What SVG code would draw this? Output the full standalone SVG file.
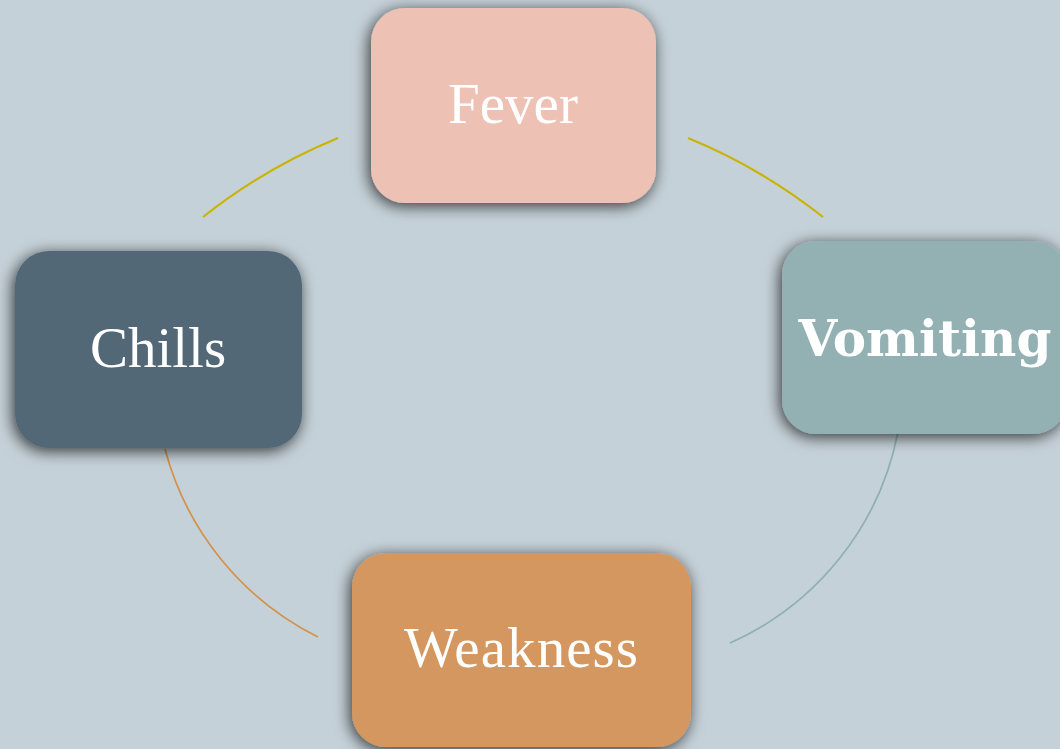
<svg xmlns="http://www.w3.org/2000/svg" width="1060" height="749" viewBox="0 0 1060 749">
<defs>
<filter id="sh" x="-25%" y="-25%" width="150%" height="150%">
<feDropShadow dx="-2" dy="3" stdDeviation="8" flood-color="#000" flood-opacity="0.75"/>
</filter>
<style>
.node{filter:url(#sh)}
.lbl{font-family:"Liberation Serif","Times New Roman",serif;font-size:57px;fill:#ffffff;text-anchor:middle}
.bold{font-family:"DejaVu Serif",serif;font-size:50px;font-weight:bold}
.arc{fill:none}
</style>
</defs>
<rect width="1060" height="749" fill="#c5d1d8"/>
<g id="connectors">
<path class="arc" d="M203,217 A560,560 0 0 1 338,138" stroke="#c9b304" stroke-width="2.2"/>
<path class="arc" d="M688,138 A560,560 0 0 1 823,217" stroke="#c9b304" stroke-width="2.2"/>
<path class="arc" d="M898,432 A292,292 0 0 1 730,643" stroke="#8eb0b3" stroke-width="1.7"/>
<path class="arc" d="M318,637 A294,294 0 0 1 165,449" stroke="#d4914a" stroke-width="1.7"/>
</g>
<g id="node-fever">
<rect class="node" x="371" y="8" width="285" height="195" rx="34" fill="#eec1b5"/>
<text class="lbl" x="513" y="123">Fever</text>
</g>
<g id="node-vomiting">
<rect class="node" x="782" y="241" width="285" height="193" rx="34" fill="#93b1b3"/>
<text class="lbl bold" x="925" y="356">Vomiting</text>
</g>
<g id="node-chills">
<rect class="node" x="15" y="251" width="287" height="197" rx="34" fill="#526876"/>
<text class="lbl" x="158" y="367">Chills</text>
</g>
<g id="node-weakness">
<rect class="node" x="352" y="553" width="339" height="194" rx="34" fill="#d4975e"/>
<text class="lbl" x="521" y="667" textLength="234" lengthAdjust="spacing">Weakness</text>
</g>
</svg>
